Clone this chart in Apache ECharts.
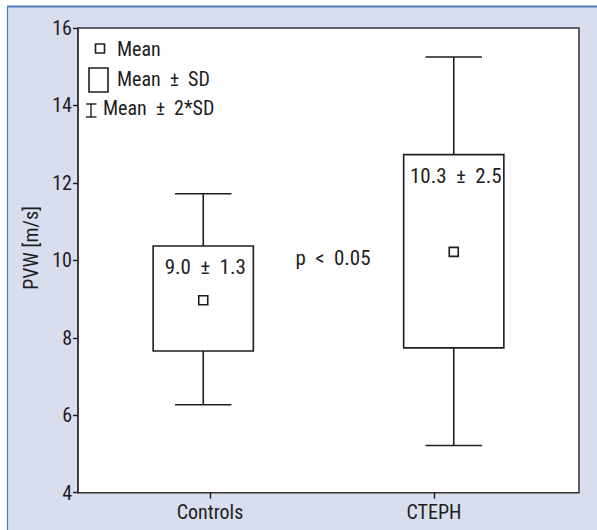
<!DOCTYPE html>
<html>
<head>
<meta charset="utf-8">
<script src="https://cdn.jsdelivr.net/npm/echarts@6/dist/echarts.min.js"></script>
<style>
html,body{margin:0;padding:0;background:#ffffff;}
#chart{width:597px;height:530px;}
</style>
</head>
<body>
<div id="chart"></div>
<script>
// ---- data ----
const categories = ['Controls', 'CTEPH'];
const meanValues = [8.97, 10.22];
const sdLow = [7.66, 7.74];
const sdHigh = [10.37, 12.73];
const sd2Low = [6.27, 5.22];
const sd2High = [11.72, 15.25];
const boxLabels = ['9.0\u2002\u00b1\u20021.3', '10.3\u2002\u00b1\u20022.5'];
const yTicks = [4, 6, 8, 10, 12, 14, 16];
const pText = 'p\u2002<\u20020.05';
const legendLabels = ['Mean', 'Mean\u2002\u00b1\u2002SD', 'Mean\u2002\u00b1\u20022*SD'];
const yAxisTitle = 'PVW [m/s]';

const FONT = '"Roboto Condensed", "Liberation Sans Narrow", sans-serif';
const FS = 20;
const FS_NOTE = 21;
const INK = '#1e1e1e';

const chart = echarts.init(document.getElementById('chart'), null, {renderer: 'svg'});

const seriesData = categories.map((c, i) => [i, meanValues[i], sdLow[i], sdHigh[i], sd2Low[i], sd2High[i], boxLabels[i]]);

function renderBox(params, api) {
  const idx = api.value(0);
  const cx = api.coord([idx, meanValues[idx]])[0];
  const band = api.size([1, 0])[0];
  const bw = band * 0.40;
  const cw = band * 0.225;
  const yMean = api.coord([idx, api.value(1)])[1];
  const yLo = api.coord([idx, api.value(2)])[1];
  const yHi = api.coord([idx, api.value(3)])[1];
  const y2Lo = api.coord([idx, api.value(4)])[1];
  const y2Hi = api.coord([idx, api.value(5)])[1];
  const ls = {stroke: INK, lineWidth: 1.6, fill: null};
  return {
    type: 'group',
    children: [
      {type: 'line', shape: {x1: cx, y1: yHi, x2: cx, y2: y2Hi}, style: ls},
      {type: 'line', shape: {x1: cx - cw / 2, y1: y2Hi, x2: cx + cw / 2, y2: y2Hi}, style: ls},
      {type: 'line', shape: {x1: cx, y1: yLo, x2: cx, y2: y2Lo}, style: ls},
      {type: 'line', shape: {x1: cx - cw / 2, y1: y2Lo, x2: cx + cw / 2, y2: y2Lo}, style: ls},
      {type: 'rect', shape: {x: cx - bw / 2, y: yHi, width: bw, height: yLo - yHi}, style: {stroke: INK, lineWidth: 1.6, fill: '#ffffff'}},
      {type: 'rect', shape: {x: cx - 4.5, y: yMean - 4.5, width: 9, height: 9}, style: {stroke: INK, lineWidth: 1.6, fill: '#ffffff'}},
      {type: 'text', style: {text: api.value(6), x: cx + 2, y: yHi + 21, align: 'center', verticalAlign: 'middle', font: FS_NOTE + 'px ' + FONT, fill: INK}}
    ]
  };
}

const option = {
  backgroundColor: '#ffffff',
  animation: false,
  graphic: [
    {type: 'rect', z: -10, shape: {x: 7, y: 6, width: 590, height: 524}, style: {fill: '#d9deee'}},
    {type: 'line', z: -9, shape: {x1: 7, y1: 6.5, x2: 597, y2: 6.5}, style: {stroke: '#4f7db8', lineWidth: 2}},
    {type: 'line', z: -9, shape: {x1: 7.5, y1: 6, x2: 7.5, y2: 530}, style: {stroke: '#4f7db8', lineWidth: 1.2}},
    // legend
    {type: 'rect', z: 10, shape: {x: 95.5, y: 44, width: 9, height: 9}, style: {stroke: INK, lineWidth: 1.6, fill: '#fff'}},
    {type: 'text', z: 10, style: {text: legendLabels[0], x: 117, y: 49, verticalAlign: 'middle', font: FS + 'px ' + FONT, fill: INK}},
    {type: 'rect', z: 10, shape: {x: 89, y: 68, width: 19, height: 24}, style: {stroke: INK, lineWidth: 1.6, fill: '#fff'}},
    {type: 'text', z: 10, style: {text: legendLabels[1], x: 117, y: 79, verticalAlign: 'middle', font: FS + 'px ' + FONT, fill: INK}},
    {type: 'line', z: 10, shape: {x1: 91, y1: 104, x2: 91, y2: 117}, style: {stroke: INK, lineWidth: 1.4}},
    {type: 'line', z: 10, shape: {x1: 86, y1: 104, x2: 96.5, y2: 104}, style: {stroke: INK, lineWidth: 1.4}},
    {type: 'line', z: 10, shape: {x1: 86, y1: 117, x2: 96.5, y2: 117}, style: {stroke: INK, lineWidth: 1.4}},
    {type: 'text', z: 10, style: {text: legendLabels[2], x: 103, y: 108, verticalAlign: 'middle', font: FS + 'px ' + FONT, fill: INK}},
    // p value
    {type: 'text', z: 10, style: {text: pText, x: 333, y: 258, align: 'center', verticalAlign: 'middle', font: FS_NOTE + 'px ' + FONT, fill: INK}}
  ],
  grid: {
    left: 78, right: 18, top: 28, bottom: 37.3,
    show: true, backgroundColor: '#ffffff', borderColor: '#333333', borderWidth: 1.5
  },
  xAxis: [
    {
      type: 'category', data: categories, boundaryGap: true,
      axisLine: {show: false}, axisTick: {show: false}, axisLabel: {show: false}
    },
    {
      type: 'value', min: 0, max: 1, position: 'bottom', splitLine: {show: false},
      axisLine: {show: false},
      axisTick: {show: true, length: 6, inside: false, lineStyle: {color: INK, width: 1.4}, customValues: [0.2635, 0.7106]},
      axisLabel: {
        show: true, customValues: [0.2635, 0.7106], margin: 9,
        fontFamily: FONT, fontSize: FS, color: INK,
        formatter: function (v) { return v < 0.5 ? categories[0] : categories[1]; }
      }
    }
  ],
  yAxis: {
    type: 'value', min: yTicks[0], max: yTicks[yTicks.length - 1], interval: 2,
    name: yAxisTitle, nameLocation: 'middle', nameGap: 36,
    nameTextStyle: {fontFamily: FONT, fontSize: FS, color: INK, padding: [0, 0, 0, 25]},
    axisLine: {show: true, lineStyle: {color: '#333333', width: 1.5}},
    axisTick: {show: true, length: 5, lineStyle: {color: INK, width: 1.4}},
    axisLabel: {fontFamily: FONT, fontSize: FS, color: INK, margin: 6},
    splitLine: {show: false}
  },
  series: [{
    type: 'custom',
    xAxisIndex: 0,
    renderItem: renderBox,
    data: seriesData,
    encode: {x: 0, y: [2, 3, 4, 5]},
    z: 5
  }]
};
chart.setOption(option);
</script>
</body>
</html>
